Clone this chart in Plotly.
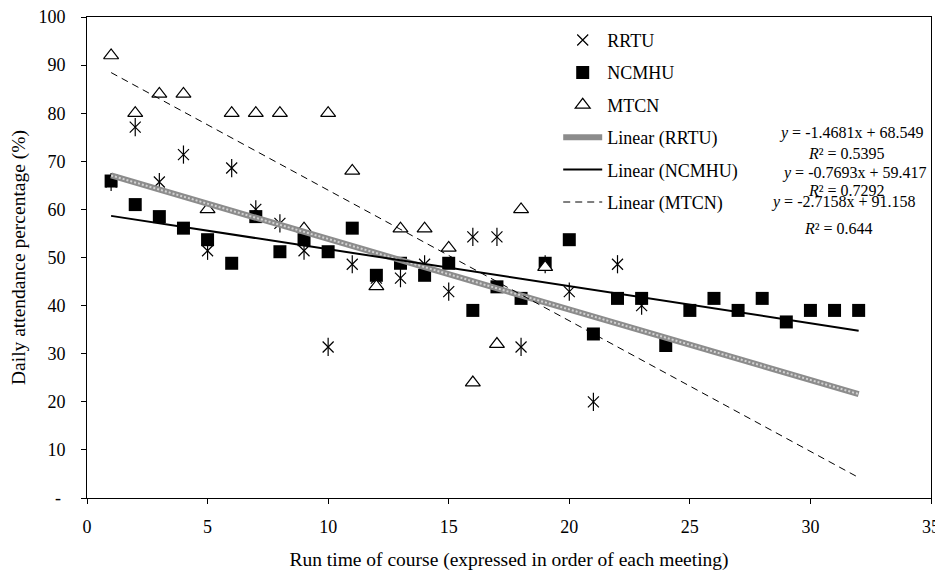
import numpy as np
import plotly.graph_objects as go

# ---- data ----
rrtu_x = list(range(1, 24))
rrtu_y = [65.7, 77.1, 65.7, 71.4, 51.4, 68.6, 60.0, 57.1, 51.4, 31.4, 48.6, 45.7,
          45.7, 48.6, 42.9, 54.3, 54.3, 31.4, 48.6, 42.9, 20.0, 48.6, 40.0]

ncmhu_x = list(range(1, 33))
ncmhu_y = [65.9, 61.0, 58.5, 56.1, 53.7, 48.8, 58.5, 51.2, 53.7, 51.2, 56.1, 46.3,
           48.8, 46.3, 48.8, 39.0, 43.9, 41.5, 48.8, 53.7, 34.1, 41.5, 41.5, 31.7,
           39.0, 41.5, 39.0, 41.5, 36.6, 39.0, 39.0, 39.0]

mtcn_x = list(range(1, 20))
mtcn_y = [92, 80, 84, 84, 60, 80, 80, 80, 56, 80, 68, 44, 56, 56, 52, 24, 32, 60, 48]

series_names = ["RRTU", "NCMHU", "MTCN"]
trend_names = ["Linear (RRTU)", "Linear (NCMHU)", "Linear (MTCN)"]
trend_x = [1, 32]  # span of the meetings

eq_texts = ["<i>y</i> = -1.4681x + 68.549", "<i>R</i>² = 0.5395",
            "<i>y</i> = -0.7693x + 59.417", "<i>R</i>² = 0.7292",
            "<i>y</i> = -2.7158x + 91.158", "<i>R</i>² = 0.644"]

y_tickvals = list(range(0, 101, 10))
y_ticktext = ["-\u00a0"] + [str(v) for v in range(10, 101, 10)]
x_tickvals = list(range(0, 36, 5))

FONT = "Liberation Serif"


def fit_line(xs, ys):
    b, a = np.polyfit(np.array(xs, float), np.array(ys, float), 1)
    tx = np.array(trend_x, float)
    return tx, a + b * tx


fig = go.Figure()

# markers
fig.add_trace(go.Scatter(x=rrtu_x, y=rrtu_y, mode="markers", name=series_names[0],
                         legendgroup="g1",
                         marker=dict(symbol="x-thin-open", size=11, color="black",
                                     line=dict(width=1.2, color="black"))))
fig.add_trace(go.Scatter(x=rrtu_x, y=rrtu_y, mode="markers", showlegend=False,
                         hoverinfo="skip",
                         marker=dict(symbol="line-ns-open", size=13, color="black",
                                     line=dict(width=1.2, color="black"))))
fig.add_trace(go.Scatter(x=ncmhu_x, y=ncmhu_y, mode="markers", name=series_names[1],
                         legendgroup="g2",
                         marker=dict(symbol="square", size=13, color="black",
                                     line=dict(width=0))))
fig.add_trace(go.Scatter(x=mtcn_x, y=mtcn_y, mode="markers", name=series_names[2],
                         legendgroup="g3",
                         marker=dict(symbol="triangle-up", size=13, color="white",
                                     line=dict(width=1.2, color="black"))))

# trend lines
tx, ty = fit_line(rrtu_x, rrtu_y)
fig.add_trace(go.Scatter(x=tx, y=ty, mode="lines", name=trend_names[0], legendgroup="g4",
                         line=dict(color="#8c8c8c", width=6)))
fig.add_trace(go.Scatter(x=tx, y=ty, mode="lines", showlegend=False, hoverinfo="skip",
                         line=dict(color="#d2d2d2", width=2, dash="2px,2px")))
tx, ty = fit_line(ncmhu_x, ncmhu_y)
fig.add_trace(go.Scatter(x=tx, y=ty, mode="lines", name=trend_names[1], legendgroup="g5",
                         line=dict(color="black", width=2)))
tx, ty = fit_line(mtcn_x, mtcn_y)
fig.add_trace(go.Scatter(x=tx, y=ty, mode="lines", name=trend_names[2], legendgroup="g6",
                         line=dict(color="black", width=1, dash="7px,5px")))

# equation annotations
eq_pos = [(31.67, 75.9), (31.5, 71.7), (31.8, 67.6), (31.5, 64.0), (31.34, 61.5), (31.17, 56.1)]
for (ax, ay), txt in zip(eq_pos, eq_texts):
    fig.add_annotation(x=ax, y=ay, xref="x", yref="y", text=txt, showarrow=False,
                       font=dict(family=FONT, size=16, color="black"),
                       xanchor="center", yanchor="middle")

fig.update_layout(
    width=935, height=564,
    margin=dict(l=79, r=12, t=9, b=74),
    paper_bgcolor="white", plot_bgcolor="white",
    font=dict(family=FONT, size=18, color="black"),
    showlegend=True,
    legend=dict(x=0.5583, y=0.99, xanchor="left", yanchor="top",
                bgcolor="rgba(0,0,0,0)", borderwidth=0, itemwidth=39,
                font=dict(family=FONT, size=18, color="black"),
                tracegroupgap=6, traceorder="grouped"),
    xaxis=dict(range=[0, 35], tickvals=x_tickvals, ticks="outside", ticklen=5,
               tickcolor="black", showline=True, linecolor="black", linewidth=1,
               mirror=True, showgrid=False, zeroline=False, automargin=False,
               ticklabelstandoff=7, ticklabeloverflow="allow",
               tickfont=dict(family=FONT, size=18),
               title=dict(text="Run time of course (expressed in order of each meeting)",
                          font=dict(family=FONT, size=19.5), standoff=16)),
    yaxis=dict(range=[0, 100], tickvals=y_tickvals, ticktext=y_ticktext, ticks="outside",
               ticklen=5, tickcolor="black", showline=True, linecolor="black", linewidth=1,
               mirror=True, showgrid=False, zeroline=False, ticklabelstandoff=12,
               automargin=False, ticklabeloverflow="allow",
               tickfont=dict(family=FONT, size=18),
               title=dict(text="Daily attendance percentage (%)",
                          font=dict(family=FONT, size=19.5), standoff=9)),
)

fig.write_html("out.html")
